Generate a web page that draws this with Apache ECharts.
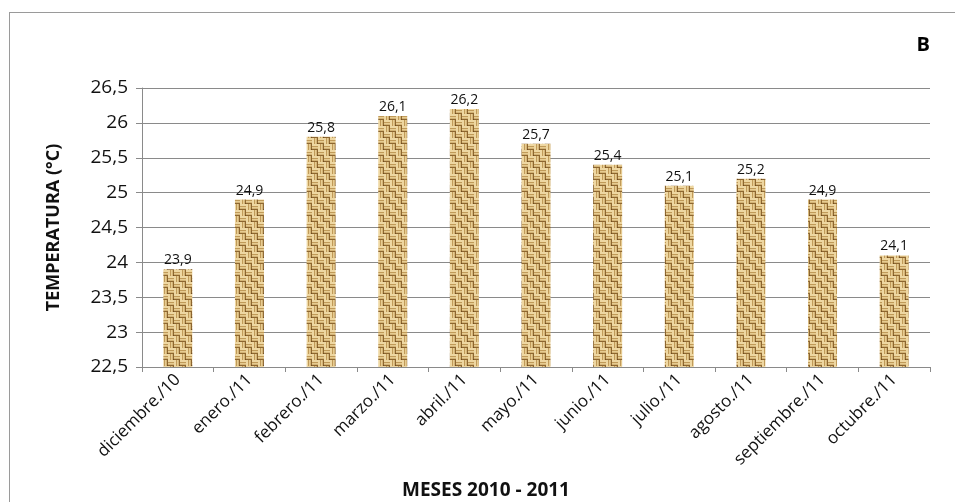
<!DOCTYPE html>
<html>
<head>
<meta charset="utf-8">
<script src="https://cdn.jsdelivr.net/npm/echarts@6/dist/echarts.min.js"></script>
<style>
html,body{margin:0;padding:0;background:#fff;}
#frame{position:absolute;left:9px;top:12px;width:960px;height:500px;border:1px solid #9a9a9a;box-sizing:border-box;}
#chart{position:absolute;left:0;top:0;width:955px;height:502px;}
</style>
</head>
<body>
<div id="frame"></div>
<div id="chart"></div>
<script>
var categories = ['diciembre./10','enero./11','febrero./11','marzo./11','abril./11','mayo./11','junio./11','julio./11','agosto./11','septiembre./11','octubre./11'];
var temperatures = [23.9, 24.9, 25.8, 26.1, 26.2, 25.7, 25.4, 25.1, 25.2, 24.9, 24.1];
var yTicks = [22.5, 23, 23.5, 24, 24.5, 25, 25.5, 26, 26.5];

function comma(v){ return String(v).replace('.', ','); }

// woven burlap-like basket-weave texture
function makeTexture(){
  var c = document.createElement('canvas');
  c.width = 12; c.height = 12;
  var g = c.getContext('2d');
  g.fillStyle = '#dcbd80'; g.fillRect(0,0,12,12);
  var light = '#eed7a2', mid = '#c09a58', dark = '#8d6630';
  for (var by = 0; by < 2; by++) {
    for (var bx = 0; bx < 2; bx++) {
      var ox = bx*6, oy = by*6;
      var horiz = (bx + by) % 2 === 0;
      var rows = [light, light, mid, '#e6cb92', '#d4b476', dark];
      for (var k = 0; k < 6; k++) {
        g.fillStyle = rows[k];
        if (horiz) g.fillRect(ox, oy+k, 6, 1);
        else g.fillRect(ox+k, oy, 1, 6);
      }
    }
  }
  g.fillStyle = '#6e4b20';
  g.fillRect(5,11,1,1); g.fillRect(11,5,1,1);
  return c;
}

var chart = echarts.init(document.getElementById('chart'), null, {renderer:'canvas'});
chart.setOption({
  backgroundColor: 'transparent',
  animation: false,
  title: {
    text: 'B', right: 20, top: 30,
    textStyle: {fontFamily: 'Open Sans', fontWeight: 'bold', fontSize: 20, color: '#000'}
  },
  grid: {left: 142, right: 25, top: 88, bottom: 135, containLabel: false, outerBoundsMode: 'none'},
  xAxis: {
    type: 'category',
    data: categories,
    name: 'MESES 2010 - 2011',
    nameLocation: 'middle',
    nameGap: 114,
    nameTextStyle: {fontFamily: 'Open Sans', fontWeight: 'bold', fontSize: 19, color: '#111', padding: [0, 100, 0, 0]},
    axisLine: {show: true, lineStyle: {color: '#8a8a8a', width: 1}},
    axisTick: {show: true, length: 5, lineStyle: {color: '#8a8a8a'}},
    axisLabel: {rotate: 45, fontFamily: 'Open Sans', fontSize: 17, color: '#111', margin: 10, interval: 0}
  },
  yAxis: {
    type: 'value',
    min: 22.5, max: 26.5, interval: 0.5,
    name: 'TEMPERATURA (°C)',
    nameLocation: 'middle',
    nameGap: 79,
    nameRotate: 90,
    nameTextStyle: {fontFamily: 'Open Sans', fontWeight: 'bold', fontSize: 18, color: '#111'},
    axisLine: {show: true, lineStyle: {color: '#8a8a8a', width: 1}},
    axisTick: {show: true, length: 6, lineStyle: {color: '#8a8a8a'}},
    splitLine: {show: true, lineStyle: {color: '#8a8a8a', width: 1}},
    axisLabel: {
      fontFamily: 'Open Sans', fontSize: 19, color: '#111', margin: 14,
      formatter: function(v){ return comma(v); }
    }
  },
  series: [{
    type: 'bar',
    data: temperatures,
    barWidth: 29,
    itemStyle: {color: {image: makeTexture(), repeat: 'repeat'}},
    label: {
      show: true, position: 'top', distance: 2,
      fontFamily: 'Open Sans', fontSize: 14, color: '#111',
      formatter: function(p){ return comma(p.value); }
    }
  }]
});
</script>
</body>
</html>
